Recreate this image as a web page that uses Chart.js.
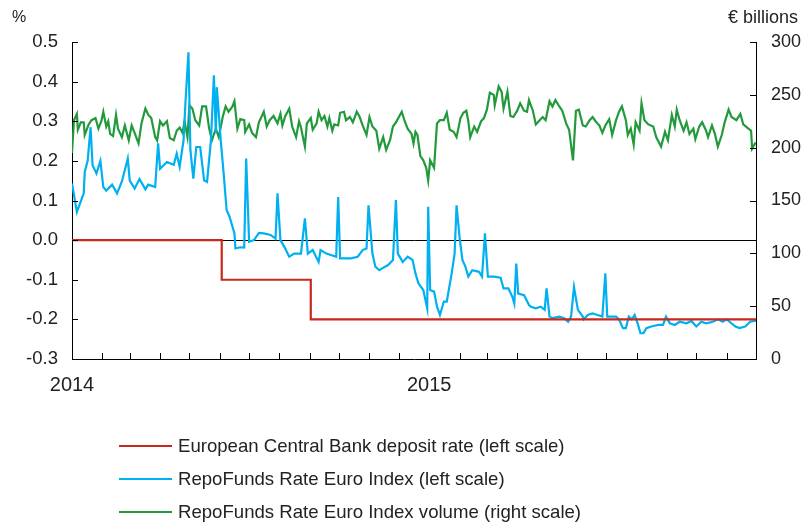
<!DOCTYPE html>
<html lang="en">
<head>
<meta charset="UTF-8">
<title>RepoFunds Rate Euro Index</title>
<style>
  body { margin: 0; background: #fff; font-family: "Liberation Sans", Arial, sans-serif; }
  .wrap { position: relative; width: 804px; height: 525px; }
  .legend { position: absolute; left: 119px; top: 429px; }
  .legend .item { height: 33.4px; display: flex; align-items: center; font-size: 18.6px; color: #222; white-space: nowrap; }
  .legend .swatch { display: inline-block; width: 53px; height: 2px; margin-right: 6px; }
</style>
<script src="https://cdn.jsdelivr.net/npm/chart.js"></script>
</head>
<body>
<div class="wrap">
  <canvas id="repoChart"></canvas>
  <div class="legend" id="legend"></div>
</div>
<script>
// x values are days counted from 1 January 2014
const monthStarts = [0, 31, 59, 90, 120, 151, 181, 212, 243, 273, 304, 334,
  365, 396, 424, 455, 485, 516, 546, 577, 608, 638, 669, 699];
const yearTicks = [0, 365];
const yearLabels = ['2014', '2015'];

const leftTicks = { min: -0.3, max: 0.5, step: 0.1 };
const rightTicks = { min: 0, max: 300, step: 50 };

// ECB deposit rate, %
const ecbDays = [0, 153, 244, 699];
const ecbRate = [0, -0.1, -0.2, -0.2];

// RepoFunds Rate Euro Index, %
const rateDays = [
  0, 5, 12, 13, 16, 19, 21, 25, 29, 32,
  35, 41, 46, 51, 57, 59, 64, 69, 75, 78,
  85, 88, 90, 97, 104, 107, 110, 114, 116, 119,
  121, 124, 127, 131, 135, 138, 142, 145, 147, 148,
  152, 155, 158, 161, 166, 167, 172, 176, 178, 181,
  186, 191, 196, 203, 208, 210, 213, 217, 222, 227,
  234, 238, 241, 246, 252, 254, 260, 270, 272, 274,
  285, 292, 297, 301, 303, 307, 310, 314, 320, 323,
  328, 331, 333, 338, 343, 348, 351, 354, 359, 363,
  364, 366, 370, 373, 376, 380, 383, 388, 391, 393,
  396, 399, 402, 405, 409, 416, 419, 422, 425, 431,
  438, 441, 446, 450, 452, 454, 456, 462, 467, 469,
  474, 479, 483, 485, 488, 491, 498, 503, 507, 510,
  513, 517, 522, 523, 527, 532, 537, 542, 545, 547,
  552, 556, 559, 563, 566, 569, 572, 575, 578, 581,
  584, 587, 592, 599, 604, 607, 611, 616, 621, 628,
  633, 638, 643, 648, 655, 660, 665, 669, 672, 678,
  682, 688, 693, 699
];
const rateValues = [
  0.143, 0.071, 0.118, 0.172, 0.200, 0.285, 0.189, 0.168, 0.200, 0.134,
  0.125, 0.140, 0.118, 0.148, 0.206, 0.150, 0.130, 0.154, 0.128, 0.140,
  0.134, 0.244, 0.180, 0.197, 0.190, 0.218, 0.185, 0.252, 0.350, 0.474,
  0.227, 0.155, 0.235, 0.235, 0.151, 0.147, 0.252, 0.416, 0.270, 0.386,
  0.252, 0.168, 0.076, 0.059, 0.017, -0.021, -0.018, -0.019, 0.206, -0.004,
  0.000, 0.018, 0.017, 0.013, 0.004, 0.118, 0.000, -0.017, -0.042, -0.034,
  -0.034, 0.055, -0.034, -0.025, -0.055, -0.025, -0.034, -0.042, 0.109, -0.046,
  -0.046, -0.042, -0.025, -0.021, 0.088, -0.034, -0.067, -0.076, -0.067, -0.063,
  -0.050, 0.101, -0.034, -0.055, -0.042, -0.050, -0.084, -0.109, -0.126, -0.172,
  0.084, -0.126, -0.130, -0.168, -0.189, -0.155, -0.155, -0.084, -0.034, 0.088,
  0.008, -0.050, -0.067, -0.092, -0.076, -0.080, -0.092, 0.017, -0.092, -0.092,
  -0.095, -0.122, -0.122, -0.143, -0.160, -0.059, -0.135, -0.139, -0.164, -0.168,
  -0.172, -0.168, -0.176, -0.122, -0.193, -0.197, -0.193, -0.197, -0.206, -0.193,
  -0.118, -0.176, -0.193, -0.200, -0.189, -0.185, -0.189, -0.193, -0.084, -0.193,
  -0.193, -0.193, -0.200, -0.222, -0.222, -0.193, -0.200, -0.189, -0.210, -0.235,
  -0.235, -0.222, -0.218, -0.214, -0.214, -0.193, -0.210, -0.214, -0.206, -0.210,
  -0.204, -0.218, -0.206, -0.210, -0.206, -0.200, -0.206, -0.200, -0.206, -0.218,
  -0.222, -0.218, -0.206, -0.203
];

// RepoFunds Rate Euro Index volume, EUR billions
const volumeDays = [
  0, 2, 5, 6, 9, 12, 13, 17, 20, 24,
  27, 30, 32, 35, 37, 39, 42, 45, 47, 51,
  54, 58, 61, 64, 68, 71, 75, 78, 81, 85,
  87, 90, 93, 97, 100, 104, 107, 110, 113, 115,
  118, 120, 123, 126, 130, 133, 137, 140, 143, 147,
  150, 154, 157, 160, 164, 166, 169, 172, 176, 177,
  181, 184, 188, 191, 196, 199, 202, 206, 210, 213,
  215, 218, 222, 225, 229, 232, 234, 238, 240, 244,
  246, 250, 252, 255, 258, 261, 263, 266, 268, 272,
  274, 278, 280, 284, 287, 291, 294, 297, 301, 304,
  307, 311, 314, 318, 321, 325, 328, 331, 337, 340,
  343, 347, 349, 351, 353, 356, 359, 362, 364, 366,
  370, 373, 376, 380, 383, 386, 390, 393, 397, 400,
  403, 405, 407, 411, 414, 418, 421, 424, 427, 431,
  432, 436, 439, 441, 445, 448, 451, 455, 458, 462,
  465, 467, 471, 474, 477, 481, 484, 488, 491, 494,
  498, 501, 505, 508, 512, 515, 518, 522, 525, 529,
  532, 535, 539, 542, 545, 549, 552, 556, 559, 562,
  566, 568, 571, 574, 576, 580, 582, 585, 589, 594,
  597, 602, 606, 609, 613, 616, 618, 621, 625, 628,
  631, 635, 637, 641, 644, 648, 650, 654, 657, 660,
  664, 667, 671, 674, 679, 683, 686, 690, 694, 695,
  698, 699
];
const volumeValues = [
  195, 226, 232, 217, 224, 224, 212, 222, 226, 228,
  218, 225, 234, 220, 225, 213, 211, 231, 218, 210,
  221, 207, 221, 214, 204, 223, 237, 231, 228, 210,
  207, 225, 221, 225, 209, 207, 216, 219, 214, 225,
  210, 240, 237, 226, 221, 239, 239, 219, 207, 218,
  210, 229, 239, 234, 239, 244, 218, 227, 226, 215,
  222, 214, 210, 224, 234, 220, 226, 230, 223, 232,
  221, 230, 237, 220, 210, 225, 219, 201, 223, 228,
  217, 223, 234, 226, 230, 220, 228, 216, 222, 221,
  233, 234, 226, 229, 224, 234, 229, 221, 212, 229,
  220, 216, 199, 210, 198, 207, 220, 224, 234, 225,
  218, 213, 204, 215, 212, 192, 188, 181, 169, 188,
  181, 223, 226, 226, 233, 217, 215, 210, 228, 233,
  235, 225, 210, 220, 215, 225, 228, 236, 252, 250,
  240, 258, 253, 237, 253, 230, 229, 235, 242, 235,
  234, 245, 235, 222, 225, 229, 226, 244, 239, 245,
  239, 235, 223, 217, 188, 235, 236, 221, 220, 226,
  229, 225, 221, 214, 221, 227, 212, 226, 234, 239,
  226, 212, 218, 203, 224, 216, 242, 226, 222, 220,
  210, 201, 215, 207, 231, 220, 236, 226, 216, 224,
  213, 218, 208, 220, 224, 216, 210, 221, 213, 201,
  212, 224, 236, 229, 226, 232, 222, 219, 216, 199,
  204, 204
];

function toPoints(xs, ys) {
  return xs.map((x, i) => ({ x: x, y: ys[i] }));
}

const FONT = '"Liberation Sans", Arial, sans-serif';

// tick marks drawn inside the plot, plus the unit labels over each axis
const insideTicks = {
  id: 'insideTicks',
  afterDatasetsDraw(chart) {
    const { ctx, chartArea, scales } = chart;
    ctx.save();
    ctx.strokeStyle = '#000';
    ctx.lineWidth = 1;
    ctx.beginPath();
    scales.x.ticks.forEach(t => {
      const px = Math.round(scales.x.getPixelForValue(t.value)) + 0.5;
      ctx.moveTo(px, chartArea.bottom);
      ctx.lineTo(px, chartArea.bottom - 6);
    });
    scales.y.ticks.forEach(t => {
      const py = Math.round(scales.y.getPixelForValue(t.value)) + 0.5;
      ctx.moveTo(chartArea.left, py);
      ctx.lineTo(chartArea.left + 6, py);
    });
    scales.y1.ticks.forEach(t => {
      const py = Math.round(scales.y1.getPixelForValue(t.value)) + 0.5;
      ctx.moveTo(chartArea.right, py);
      ctx.lineTo(chartArea.right - 6, py);
    });
    ctx.stroke();

    ctx.fillStyle = '#222';
    ctx.textBaseline = 'middle';
    ctx.font = '16px ' + FONT;
    ctx.textAlign = 'left';
    ctx.fillText('%', 12, 18);
    ctx.font = '18px ' + FONT;
    ctx.textAlign = 'right';
    ctx.fillText('€ billions', 798, 18);
    ctx.restore();
  }
};

const ctx = document.getElementById('repoChart').getContext('2d');
const chart = new Chart(ctx, {
  type: 'line',
  data: {
    datasets: [
      {
        label: 'European Central Bank deposit rate (left scale)',
        data: toPoints(ecbDays, ecbRate),
        borderColor: '#c8281e',
        borderWidth: 2.2,
        stepped: true,
        yAxisID: 'y'
      },
      {
        label: 'RepoFunds Rate Euro Index (left scale)',
        data: toPoints(rateDays, rateValues),
        borderColor: '#00b0f0',
        borderWidth: 2.2,
        yAxisID: 'y'
      },
      {
        label: 'RepoFunds Rate Euro Index volume (right scale)',
        data: toPoints(volumeDays, volumeValues),
        borderColor: '#229a3c',
        borderWidth: 2.2,
        yAxisID: 'y1'
      }
    ]
  },
  options: {
    responsive: true,
    maintainAspectRatio: false,
    animation: false,
    layout: { padding: { top: 42, left: 0, right: 0, bottom: 0 } },
    elements: { point: { radius: 0 }, line: { tension: 0 } },
    plugins: {
      legend: { display: false },
      tooltip: { enabled: false }
    },
    scales: {
      x: {
        type: 'linear',
        min: 0,
        max: 699,
        afterBuildTicks: scale => {
          scale.ticks = monthStarts.map(v => ({ value: v }));
        },
        afterFit: scale => { scale.height = 166; },
        grid: { drawOnChartArea: false, drawTicks: false },
        border: { display: true, color: '#000', width: 1 },
        ticks: {
          autoSkip: false,
          maxRotation: 0,
          padding: 14,
          color: '#222',
          font: { family: FONT, size: 20 },
          callback: value => {
            const i = yearTicks.indexOf(value);
            return i >= 0 ? yearLabels[i] : '';
          }
        }
      },
      y: {
        position: 'left',
        min: leftTicks.min,
        max: leftTicks.max,
        afterFit: scale => { scale.width = 72; },
        grid: {
          drawTicks: false,
          color: c => (c.tick && Math.abs(c.tick.value) < 1e-9 ? '#000' : 'rgba(0,0,0,0)'),
          lineWidth: 1
        },
        border: { display: true, color: '#000', width: 1 },
        ticks: {
          stepSize: leftTicks.step,
          padding: 14,
          color: '#222',
          font: { family: FONT, size: 18.5 },
          callback: value => value.toFixed(1)
        }
      },
      y1: {
        position: 'right',
        min: rightTicks.min,
        max: rightTicks.max,
        afterFit: scale => { scale.width = 48; },
        grid: { drawOnChartArea: false, drawTicks: false },
        border: { display: true, color: '#000', width: 1 },
        ticks: {
          stepSize: rightTicks.step,
          padding: 15,
          color: '#222',
          font: { family: FONT, size: 18 }
        }
      }
    }
  },
  plugins: [insideTicks]
});

// legend below the plot, one entry per line
const legendBox = document.getElementById('legend');
chart.data.datasets.forEach(ds => {
  const item = document.createElement('div');
  item.className = 'item';
  const sw = document.createElement('span');
  sw.className = 'swatch';
  sw.style.background = ds.borderColor;
  item.appendChild(sw);
  item.appendChild(document.createTextNode(ds.label));
  legendBox.appendChild(item);
});
</script>
</body>
</html>
